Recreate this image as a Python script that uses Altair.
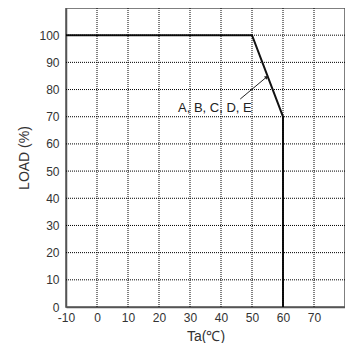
import altair as alt
import pandas as pd

# derating curve
ta = [-10, 50, 60, 60]
load = [100, 100, 70, 0]
x_ticks = [-10, 0, 10, 20, 30, 40, 50, 60, 70]
y_ticks = [0, 10, 20, 30, 40, 50, 60, 70, 80, 90, 100]
grid_x = [0, 10, 20, 30, 40, 50, 60, 70]
grid_y = [10, 20, 30, 40, 50, 60, 70, 80, 90, 100]

label_text = ["A, B, C, D, E"]
label_x = [49.9]
label_y = [73.3]
arrow_x = [46.2]
arrow_y = [76.5]
arrow_x2 = [54.6]
arrow_y2 = [84.5]

df = pd.DataFrame({"ta": ta, "load": load, "order": list(range(len(ta)))})
xs = alt.Scale(domain=[-10, 80], nice=False, zero=False)
ys = alt.Scale(domain=[0, 110], nice=False, zero=False)

FONT = "Liberation Sans"

x_axis = alt.Axis(values=x_ticks, labelExpr="'' + datum.value", labelOverlap=False,
                  labelFlush=False, titleY=29, titleBaseline="middle", labelPadding=5)
y_axis = alt.Axis(values=y_ticks, labelExpr="'' + datum.value", labelOverlap=False,
                  labelFlush=False, titleX=-42, titleBaseline="middle", labelPadding=7)


def X(field):
    return alt.X(field, scale=xs, title="Ta(℃)", axis=x_axis)


def Y(field):
    return alt.Y(field, scale=ys, title="LOAD (%)", axis=y_axis)


line = alt.Chart(df).mark_line(color="#111", strokeWidth=2).encode(
    x=X("ta:Q"), y=Y("load:Q"), order="order:Q")

gx = alt.Chart(pd.DataFrame({"g": grid_x})).mark_rule(
    color="black", strokeDash=[1, 1], strokeWidth=1).encode(x=X("g:Q"))
gy = alt.Chart(pd.DataFrame({"g": grid_y})).mark_rule(
    color="black", strokeDash=[1, 1], strokeWidth=1).encode(y=Y("g:Q"))

ann = pd.DataFrame({"t": label_text, "x": label_x, "y": label_y,
                    "ax": arrow_x, "ay": arrow_y, "ax2": arrow_x2, "ay2": arrow_y2})
txt = alt.Chart(ann).mark_text(align="right", baseline="middle", fontSize=13,
                               font=FONT, color="#222").encode(
    x=X("x:Q"), y=Y("y:Q"), text="t:N")
arrow = alt.Chart(ann).mark_rule(color="#222", strokeWidth=1).encode(
    x=X("ax:Q"), y=Y("ay:Q"), x2="ax2:Q", y2="ay2:Q")
head = alt.Chart(ann).mark_point(shape="triangle", filled=True, size=18, angle=52,
                                 color="#222", opacity=1).encode(
    x=X("ax2:Q"), y=Y("ay2:Q"))

chart = alt.layer(line, gx, gy, arrow, head, txt).properties(
    width=279, height=299,
    autosize=alt.AutoSizeParams(type="none"),
    padding={"left": 58, "top": 0, "right": 0, "bottom": 36},
).configure_view(
    stroke="#555", strokeWidth=1.5
).configure_axis(
    ticks=False, grid=False,
    labelFontSize=12, titleFontSize=14, titleFontWeight="normal",
    labelColor="#333", titleColor="#333", domainColor="#555", domainWidth=1.5,
    labelFont=FONT, titleFont=FONT,
)

chart.save("out.html", embed_options={"renderer": "svg", "actions": False})
